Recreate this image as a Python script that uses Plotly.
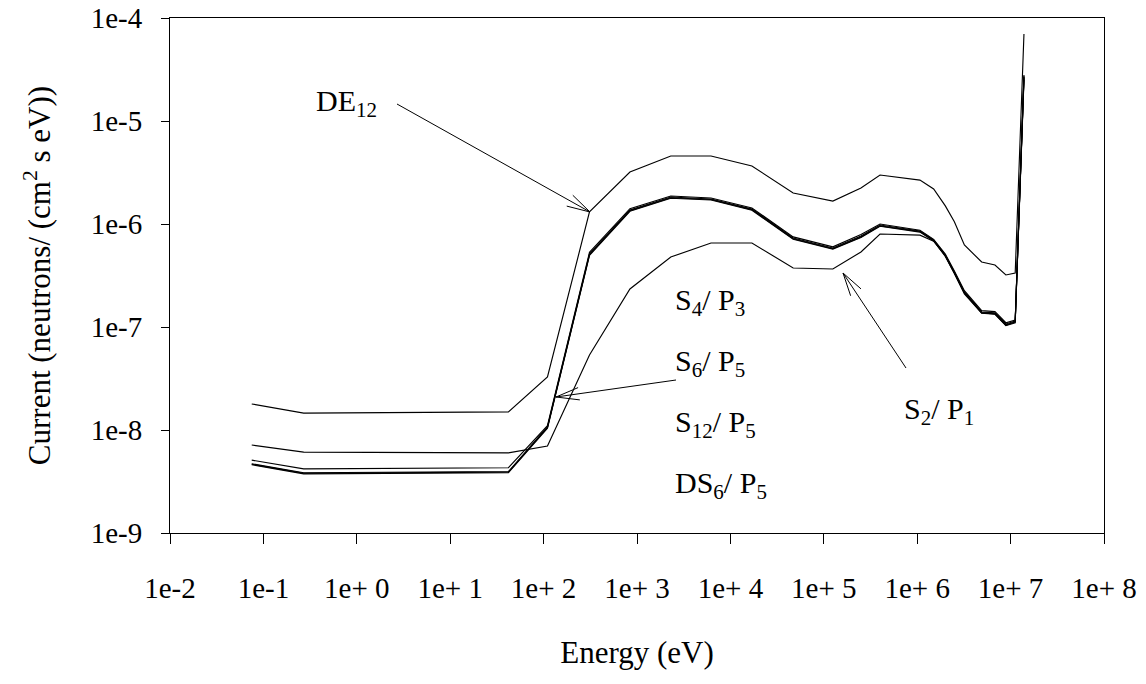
import math
import plotly.graph_objects as go

# Group energies (eV) at which the currents are tabulated
energy = [0.075, 0.27, 42, 110, 310, 840, 2300, 6200, 17000, 47000, 125000,
          250000, 400000, 1.07e6, 1.5e6, 2.0e6, 2.5e6, 3.2e6, 4.9e6, 6.8e6,
          8.9e6, 1.12e7, 1.39e7]

# Neutron current, neutrons/(cm^2 s eV)
de12 = [1.79e-8, 1.46e-8, 1.50e-8, 3.27e-8, 1.31e-6, 3.2e-6, 4.57e-6, 4.57e-6,
        3.66e-6, 2.0e-6, 1.67e-6, 2.24e-6, 2.99e-6, 2.67e-6, 2.19e-6, 1.50e-6,
        1.05e-6, 6.25e-7, 4.28e-7, 4.0e-7, 3.2e-7, 3.34e-7, 7.0e-5]
s2p1 = [7.15e-9, 6.1e-9, 6.0e-9, 7.0e-9, 5.35e-8, 2.34e-7, 4.78e-7, 6.54e-7,
        6.54e-7, 3.74e-7, 3.66e-7, 5.35e-7, 8.0e-7, 7.8e-7, 6.8e-7, 4.95e-7,
        3.35e-7, 2.15e-7, 1.37e-7, 1.34e-7, 1.04e-7, 1.12e-7, 2.7e-5]
s4p3 = [5.1e-9, 4.2e-9, 4.3e-9, 1.10e-8, 5.3e-7, 1.41e-6, 1.87e-6, 1.79e-6,
        1.43e-6, 7.5e-7, 6.0e-7, 7.9e-7, 1.0e-6, 8.7e-7, 7.1e-7, 5.1e-7,
        3.5e-7, 2.25e-7, 1.44e-7, 1.41e-7, 1.1e-7, 1.17e-7, 2.6e-5]
s6p5 = [4.7e-9, 3.85e-9, 3.95e-9, 1.07e-8, 5.12e-7, 1.37e-6, 1.83e-6, 1.75e-6,
        1.40e-6, 7.31e-7, 5.85e-7, 7.64e-7, 9.78e-7, 8.55e-7, 7.0e-7, 5.0e-7,
        3.42e-7, 2.19e-7, 1.40e-7, 1.37e-7, 1.07e-7, 1.14e-7, 2.7e-5]
s12p5 = [4.65e-9, 3.8e-9, 3.9e-9, 1.06e-8, 5.05e-7, 1.35e-6, 1.80e-6, 1.73e-6,
         1.38e-6, 7.2e-7, 5.75e-7, 7.5e-7, 9.6e-7, 8.45e-7, 6.9e-7, 4.9e-7,
         3.35e-7, 2.14e-7, 1.38e-7, 1.35e-7, 1.05e-7, 1.12e-7, 2.8e-5]
ds6p5 = [4.6e-9, 3.75e-9, 3.85e-9, 1.04e-8, 4.95e-7, 1.33e-6, 1.78e-6, 1.71e-6,
         1.36e-6, 7.1e-7, 5.7e-7, 7.4e-7, 9.5e-7, 8.35e-7, 6.85e-7, 4.85e-7,
         3.3e-7, 2.1e-7, 1.36e-7, 1.33e-7, 1.03e-7, 1.10e-7, 2.5e-5]

series = [("DE12", de12), ("S2/P1", s2p1), ("S4/P3", s4p3),
          ("S6/P5", s6p5), ("S12/P5", s12p5), ("DS6/P5", ds6p5)]

x_tickvals = [1e-2, 1e-1, 1e0, 1e1, 1e2, 1e3, 1e4, 1e5, 1e6, 1e7, 1e8]
x_ticktext = ["1e-2", "1e-1", "1e+ 0", "1e+ 1", "1e+ 2", "1e+ 3", "1e+ 4",
              "1e+ 5", "1e+ 6", "1e+ 7", "1e+ 8"]
y_tickvals = [1e-9, 1e-8, 1e-7, 1e-6, 1e-5, 1e-4]
y_ticktext = ["1e-9", "1e-8", "1e-7", "1e-6", "1e-5", "1e-4"]

FONT = "Liberation Serif, Times New Roman, serif"

fig = go.Figure()
for name, vals in series:
    fig.add_trace(go.Scatter(x=energy, y=vals, mode="lines", name=name,
                             line=dict(color="black", width=1.15),
                             showlegend=False))

W, H = 1146, 684
L, R, T, B = 170, 42, 18, 151
PW, PH = W - L - R, H - T - B


def px(xp):
    return (xp - L) / PW


def py(yp):
    return (H - B - yp) / PH


# Curve labels (left edge and vertical centre, in page pixels)
labels = [
    ("DE<sub>12</sub>", 314, 103),
    ("S<sub>4</sub>/ P<sub>3</sub>", 673, 302),
    ("S<sub>6</sub>/ P<sub>5</sub>", 673, 363),
    ("S<sub>12</sub>/ P<sub>5</sub>", 673, 424),
    ("DS<sub>6</sub>/ P<sub>5</sub>", 673, 485),
    ("S<sub>2</sub>/ P<sub>1</sub>", 902, 411),
]
for txt, x0, y0 in labels:
    fig.add_annotation(text=txt, xref="paper", yref="paper", x=px(x0), y=py(y0),
                       xanchor="left", yanchor="middle", showarrow=False,
                       font=dict(family=FONT, size=30, color="black"))


# Pointer arrows with open V heads: (tail, tip) in page pixels
def arrow(tail, tip, head_len=24, half_angle=15):
    (tx, ty), (hx, hy) = tail, tip
    line = dict(color="black", width=1)
    fig.add_shape(type="line", xref="paper", yref="paper",
                  x0=px(tx), y0=py(ty), x1=px(hx), y1=py(hy), line=line)
    back = math.atan2(ty - hy, tx - hx)
    for s in (-1, 1):
        a = back + s * math.radians(half_angle)
        bx, by = hx + head_len * math.cos(a), hy + head_len * math.sin(a)
        fig.add_shape(type="line", xref="paper", yref="paper",
                      x0=px(hx), y0=py(hy), x1=px(bx), y1=py(by), line=line)


arrow((397, 104), (590, 212))
arrow((676, 380), (556, 397))
arrow((906, 368), (843, 273))

fig.update_layout(
    width=W, height=H,
    margin=dict(l=L, r=R, t=T, b=B, autoexpand=False),
    paper_bgcolor="white", plot_bgcolor="white",
    font=dict(family=FONT, size=29, color="black"),
)
fig.update_xaxes(type="log", range=[-2, 8], tickvals=x_tickvals,
                 ticktext=x_ticktext, ticks="outside", ticklen=10,
                 tickcolor="black", showline=True, linecolor="black",
                 linewidth=1, mirror=True, showgrid=False, zeroline=False,
                 automargin=False, ticklabelstandoff=19,
                 title=dict(text="Energy (eV)", standoff=38,
                            font=dict(size=31)))
fig.update_yaxes(type="log", range=[-9, -4], tickvals=y_tickvals,
                 ticktext=y_ticktext, ticks="outside", ticklen=8,
                 tickcolor="black", showline=True, linecolor="black",
                 linewidth=1, mirror=True, showgrid=False, zeroline=False,
                 automargin=False, ticklabelstandoff=13,
                 title=dict(text="Current (neutrons/ (cm<sup>2</sup> s eV))",
                            standoff=30, font=dict(size=31)))

fig.write_html("out.html")
